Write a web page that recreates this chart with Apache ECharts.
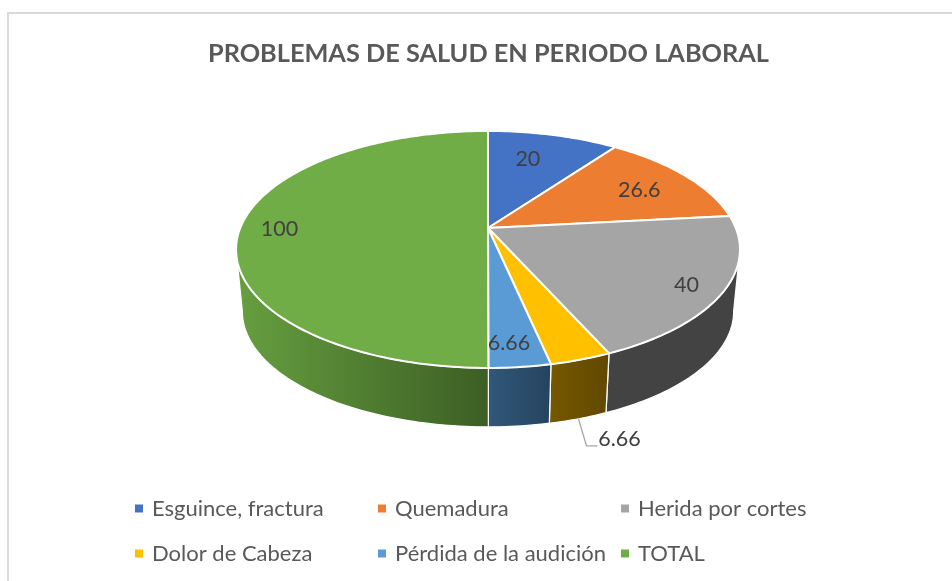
<!DOCTYPE html>
<html><head><meta charset="utf-8">
<style>html,body{margin:0;padding:0;background:#fff}#c{width:952px;height:581px}</style>
<script src="https://cdn.jsdelivr.net/npm/echarts@6/dist/echarts.min.js"></script>
</head><body><div id="c"></div>
<script>
var titleText = 'PROBLEMAS DE SALUD EN PERIODO LABORAL';
var categories = ['Esguince, fractura','Quemadura','Herida por cortes','Dolor de Cabeza','Pérdida de la audición','TOTAL'];
var values = [20, 26.6, 40, 6.66, 6.66, 100];
var topColors = ['#4472c4','#ed7d31','#a5a5a5','#ffc000','#5b9bd5','#70ad47'];
var sideLeft  = ['#2f5597','#ae5a21','#434343','#775800','#31587a','#669f40'];
var sideRight = ['#264478','#843c0c','#434343','#614800','#25435f','#3c5e23'];
var labelShift = [[-8,-1],[10,0],[38,14],null,[0,24],[-35,1]];

var total = values.reduce(function(a,b){return a+b;},0);
var FONT = 'Lato, "Noto Sans", sans-serif';
var TOP = {x:488, y:228, a:247.8, b:114.6};
var BOT = {x:488, y:290.5, a:241.6, b:111.7};
var PERSP = 0.181;
var SIL = Math.acos(-PERSP);   // angle where the rim's silhouette turns away from the viewer

function proj(g, ang, r){
  var u = r*Math.sin(ang), v = -r*Math.cos(ang), d = 1-PERSP*v;
  return [g.x+g.a*u/d, g.y+g.b*v/d];
}
function arc(g, a0, a1){
  var pts=[], n=Math.max(2,Math.ceil((a1-a0)/0.02));
  for(var i=0;i<=n;i++) pts.push(proj(g,a0+(a1-a0)*i/n,1));
  return pts;
}
function renderer(idx){
  return function(params, api){
    var before = 0;
    for(var i=0;i<idx;i++) before += values[i];
    var v = api.value(0);
    var a0 = before/total*2*Math.PI, a1 = (before+v)/total*2*Math.PI, mid=(a0+a1)/2;
    var children = [];
    var s0 = Math.max(a0, SIL), s1 = Math.min(a1, 2*Math.PI-SIL);
    if(s1 > s0){
      children.push({type:'polygon', z2:idx+1,
        shape:{points: arc(TOP,s0,s1).concat(arc(BOT,s0,s1).reverse())},
        style:{fill:new echarts.graphic.LinearGradient(0,0,1,0,[{offset:0,color:sideLeft[idx]},{offset:1,color:sideRight[idx]}]),
               stroke:'#fff', lineWidth:1.25}});
    }
    children.push({type:'polygon', z2:20,
      shape:{points:[[TOP.x,TOP.y]].concat(arc(TOP,a0,a1))},
      style:{fill:topColors[idx], stroke:'#fff', lineWidth:2, lineJoin:'round'}});
    var lp, sh = labelShift[idx];
    if(sh){
      var p = proj(TOP,mid,0.7);
      lp = [p[0]+sh[0], p[1]+sh[1]];
    } else {
      var q = proj(BOT,mid,1);
      var e1 = [q[0]+8, q[1]+27], e2 = [e1[0]+11, e1[1]];
      children.push({type:'polyline', z2:15, shape:{points:[q,e1,e2]},
        style:{stroke:'#a6a6a6', lineWidth:1.25, fill:null}});
      lp = [e2[0]+22, e2[1]-7];
    }
    children.push({type:'text', z2:30, x:lp[0], y:lp[1],
      style:{text:String(v), fill:'#404040', font:'21.5px '+FONT, textAlign:'center', textVerticalAlign:'middle'}});
    return {type:'group', children:children};
  };
}
var series = categories.map(function(name,i){
  return {type:'custom', name:name, coordinateSystem:'none', silent:true, animation:false,
    itemStyle:{color:topColors[i]}, data:[[values[i]]], renderItem:renderer(i)};
});
var chart = echarts.init(document.getElementById('c'), null, {renderer:'canvas'});
chart.setOption({
  backgroundColor:'#fff',
  animation:false,
  title:{text:titleText, left:203, top:36,
    textStyle:{fontFamily:FONT, fontWeight:'bold', fontSize:25.3, color:'#595959'}},
  legend:{data:categories, left:135, top:486, width:735, padding:0, orient:'horizontal', icon:'rect',
    itemWidth:8, itemHeight:8, itemGap:0, selectedMode:false,
    formatter:'{a|{name}}',
    textStyle:{rich:{a:{fontFamily:FONT, fontSize:22, color:'#595959', width:226, height:45, lineHeight:45, padding:[0,0,0,4]}}}},
  graphic:[{type:'rect', z:-1, shape:{x:8,y:13,width:950,height:580}, style:{fill:'#fff',stroke:'#d9d9d9',lineWidth:2}, silent:true}],
  series:series
});
</script></body></html>
